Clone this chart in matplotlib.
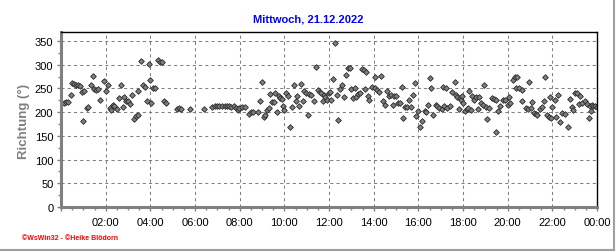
import matplotlib
matplotlib.use('Agg')
import matplotlib.pyplot as plt
from matplotlib.lines import Line2D
from matplotlib.ticker import MultipleLocator, FuncFormatter

plt.rcParams['font.family'] = ['Liberation Sans', 'DejaVu Sans']

# wind direction readings: time of day in hours and direction in degrees
hours = [0.15, 0.24, 0.33, 0.44, 0.48, 0.59, 0.69, 0.78, 0.87, 0.93, 1.00, 1.05, 1.15, 1.23,
         1.33, 1.42, 1.48, 1.57, 1.65, 1.74, 1.92, 2.01, 2.10, 2.20, 2.25, 2.32, 2.39, 2.50,
         2.59, 2.68, 2.77, 2.84, 2.92, 2.99, 3.07, 3.17, 3.26, 3.35, 3.43, 3.47, 3.58, 3.65,
         3.74, 3.84, 3.92, 3.99, 4.04, 4.14, 4.22, 4.34, 4.44, 4.52, 4.59, 4.70, 5.19, 5.30,
         5.38, 5.79, 6.39, 6.76, 6.88, 6.98, 7.09, 7.21, 7.33, 7.43, 7.54, 7.63, 7.73, 7.84,
         7.92, 7.99, 8.10, 8.22, 8.40, 8.51, 8.60, 8.81, 8.90, 9.00, 9.08, 9.15, 9.23, 9.30,
         9.38, 9.45, 9.52, 9.57, 9.67, 9.75, 9.82, 9.90, 9.94, 10.00, 10.07, 10.17, 10.24,
         10.35, 10.44, 10.53, 10.57, 10.65, 10.75, 10.83, 10.90, 10.99, 11.05, 11.09, 11.20,
         11.32, 11.41, 11.50, 11.58, 11.66, 11.72, 11.76, 11.84, 11.90, 11.99, 12.06, 12.11,
         12.19, 12.26, 12.36, 12.41, 12.51, 12.59, 12.68, 12.77, 12.84, 12.96, 13.00, 13.09,
         13.16, 13.19, 13.29, 13.38, 13.48, 13.58, 13.62, 13.67, 13.74, 13.81, 13.93, 14.04,
         14.08, 14.16, 14.23, 14.34, 14.43, 14.50, 14.61, 14.68, 14.76, 14.86, 14.93, 15.02,
         15.10, 15.19, 15.28, 15.32, 15.40, 15.50, 15.58, 15.67, 15.76, 15.85, 15.91, 16.00,
         16.07, 16.18, 16.30, 16.36, 16.45, 16.51, 16.58, 16.67, 16.77, 16.85, 16.92, 17.04,
         17.10, 17.15, 17.22, 17.30, 17.42, 17.52, 17.63, 17.67, 17.75, 17.80, 17.85, 17.90,
         17.94, 18.00, 18.09, 18.16, 18.24, 18.27, 18.34, 18.39, 18.49, 18.60, 18.65, 18.72,
         18.79, 18.91, 18.95, 19.01, 19.09, 19.16, 19.28, 19.39, 19.46, 19.49, 19.58, 19.67,
         19.79, 19.88, 20.03, 20.06, 20.10, 20.24, 20.33, 20.38, 20.44, 20.51, 20.63, 20.66,
         20.81, 20.93, 20.97, 21.03, 21.11, 21.19, 21.26, 21.33, 21.45, 21.53, 21.62, 21.68,
         21.78, 21.85, 21.88, 21.93, 22.00, 22.10, 22.18, 22.27, 22.33, 22.45, 22.56, 22.68,
         22.77, 22.86, 22.93, 23.01, 23.12, 23.20, 23.23, 23.35, 23.45, 23.55, 23.65, 23.70,
         23.74, 23.78, 23.83, 23.92, 24.00]
richtung = [220, 221, 222, 237, 262, 260, 258, 257, 256, 243, 182, 245, 208, 210,
            258, 276, 248, 246, 248, 225, 266, 244, 258, 209, 205, 215, 213, 206,
            230, 257, 211, 232, 223, 224, 218, 237, 185, 192, 195, 244, 307, 257,
            253, 223, 302, 267, 220, 251, 250, 309, 306, 305, 223, 220, 206, 208,
            206, 207, 206, 210, 212, 213, 212, 212, 213, 212, 213, 211, 214, 208,
            204, 208, 210, 211, 196, 200, 201, 201, 224, 264, 190, 194, 205, 208,
            239, 222, 222, 241, 200, 233, 229, 227, 213, 204, 240, 235, 168,
            210, 257, 224, 233, 213, 260, 224, 245, 240, 193, 238, 237,
            224, 295, 246, 243, 240, 224, 236, 231, 226, 241, 243, 225,
            270, 346, 236, 183, 248, 257, 232, 279, 293, 293, 248, 229,
            250, 232, 238, 241, 292, 288, 248, 285, 234, 225, 252, 274,
            250, 246, 242, 276, 223, 216, 245, 233, 237, 215, 233, 235,
            220, 219, 252, 188, 210, 210, 225, 210, 237, 261, 192, 203,
            169, 181, 202, 200, 216, 272, 251, 195, 215, 213, 209, 206,
            254, 212, 251, 209, 214, 242, 263, 237, 232, 207, 230, 225,
            233, 220, 202, 206, 208, 244, 205, 233, 226, 231, 206, 232,
            220, 215, 257, 211, 186, 209, 229, 227, 158, 225, 203, 213,
            226, 225, 216, 232, 219, 268, 274, 251, 275, 251, 223, 246,
            208, 206, 263, 208, 222, 198, 196, 193, 207, 211, 223, 274,
            193, 190, 231, 187, 211, 226, 190, 237, 180, 198, 196, 169,
            228, 211, 204, 241, 241, 218, 233, 220, 223, 218, 187, 214,
            203, 216, 214, 212, 211]

title = 'Mittwoch, 21.12.2022'
ylabel = 'Richtung (°)'
footer = '©WsWin32 - ©Heike Blödorn'

fig = plt.figure(figsize=(6.16, 2.53), dpi=100)
ax = fig.add_axes([61 / 616, 1 - 208 / 253, 536 / 616, 175 / 253])

ax.plot(hours, richtung, linestyle='none', marker='D', markersize=2.9,
        markerfacecolor='#7f7f7f', markeredgecolor='#2a2a2a', markeredgewidth=0.6)

ax.set_xlim(0, 24)
ax.set_ylim(0, 369)
ax.xaxis.set_major_locator(MultipleLocator(2))
ax.xaxis.set_minor_locator(MultipleLocator(0.5))
ax.yaxis.set_major_locator(MultipleLocator(50))
ax.yaxis.set_minor_locator(MultipleLocator(25))
ax.xaxis.set_major_formatter(FuncFormatter(lambda v, p: '' if v == 0 else '%02d:00' % (int(v) % 24)))

ax.grid(True, which='major', color='#808080', linestyle=(0, (3, 3)), linewidth=0.75)
ax.tick_params(axis='both', which='both', direction='out', color='#808080', labelsize=8)
ax.tick_params(axis='both', which='major', length=3, width=1)
ax.tick_params(axis='both', which='minor', length=2.5, width=1)
ax.tick_params(axis='x', pad=4)
ax.tick_params(axis='y', pad=2.5)

for side in ['left', 'bottom']:
    ax.spines[side].set_color('#808080')
    ax.spines[side].set_linewidth(2.2)
for side in ['top', 'right']:
    ax.spines[side].set_color('black')
    ax.spines[side].set_linewidth(1)

fig.text(0.5, 1 - 19 / 253, title, color='#0000ff', fontsize=8, fontweight='bold',
         ha='center', va='center')
fig.text(24 / 616, 1 - 121 / 253, ylabel, color='#808080', fontsize=9.5, fontweight='bold',
         rotation=90, ha='center', va='center')
fig.text(22 / 616, 1 - 239 / 253, footer, color='#ff0000', fontsize=5, fontweight='bold',
         ha='left', va='center')

# frame lines at the right and bottom edge of the picture
fig.add_artist(Line2D([614 / 616, 614 / 616], [1 - 251 / 253, 1], color='#a0a0a0', linewidth=1.5))
fig.add_artist(Line2D([0, 614 / 616], [1 - 251 / 253, 1 - 251 / 253], color='#a0a0a0', linewidth=1.5))

fig.savefig('out.png', dpi=100)
